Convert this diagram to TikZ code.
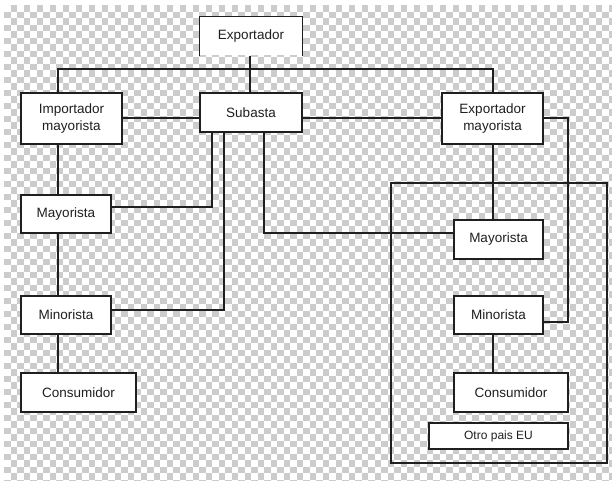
\documentclass[tikz,border=0pt]{standalone}
\usepackage{fontspec}
\setmainfont{Liberation Sans}
\definecolor{chk}{gray}{0.8}
\definecolor{ink}{gray}{0.12}
\begin{document}
\begin{tikzpicture}[x=1pt,y=-1pt,
  box/.style={draw=ink,fill=white,line width=1.2pt,inner sep=0pt,align=center,
    font=\fontsize{13.5}{17}\selectfont,text=ink},
  link/.style={draw=ink,line width=1.2pt}]
\useasboundingbox (0,0) rectangle (612,480);
\fill[white] (0,0) rectangle (612,480);
% checkered background
\foreach \i in {0,...,93}{
  \foreach \j [evaluate=\j as \k using {int(mod(\i+\j,2))}] in {0,...,73}{
    \ifnum\k=1 \fill[chk] ({4+6.5*\i},{5+6.5*\j}) rectangle ++(6.5,6.5);\fi
  }}
% nodes
\node[box,draw=none,minimum width=102pt,minimum height=38pt] (expo) at (251,36) {Exportador};
\draw[link] (expo.south west) -- (expo.north west) -- (expo.north east) -- (expo.south east);
\node[box,minimum width=101pt,minimum height=51pt] (imp) at (71.5,118.5) {Importador\\mayorista};
\node[box,minimum width=102pt,minimum height=39pt] (sub) at (251,112.5) {Subasta};
\node[box,minimum width=101pt,minimum height=51pt] (expm) at (492.5,118.5) {Exportador\\mayorista};
\node[box,minimum width=90pt,minimum height=38pt] (mayL) at (66,214) {Mayorista};
\node[box,minimum width=90pt,minimum height=38pt] (minL) at (66,315) {Minorista};
\node[box,minimum width=115pt,minimum height=39pt] (conL) at (78.5,392.5) {Consumidor};
\node[draw=ink,line width=1.2pt,minimum width=216pt,minimum height=280pt,inner sep=0pt] (eu) at (499,323) {};
\node[box,minimum width=89pt,minimum height=39pt] (mayR) at (498.5,239.5) {Mayorista};
\node[box,minimum width=89pt,minimum height=38pt] (minR) at (498.5,315) {Minorista};
\node[box,minimum width=114pt,minimum height=39pt] (conR) at (511,392.5) {Consumidor};
\node[box,minimum width=139pt,minimum height=26pt,font=\fontsize{12}{14}\selectfont] (otro) at (498.5,436) {Otro pais EU};
% coordinates
\coordinate (bus) at (58,69);
\coordinate (lx) at (58,0);
\coordinate (rx) at (493,0);
\coordinate (ex) at (568,322);
% connectors
\draw[link] (expo.south -| 250,0) -- (sub.north -| 250,0);
\draw[link] (imp.north -| lx) |- (bus) -| (expm.north -| rx);
\draw[link] (imp.east |- 0,118) -- (sub.west |- 0,118);
\draw[link] (sub.east |- 0,118) -- (expm.west |- 0,118);
\draw[link] (imp.south -| lx) -- (mayL.north -| lx);
\draw[link] (mayL.south -| lx) -- (minL.north -| lx);
\draw[link] (minL.south -| lx) -- (conL.north -| lx);
\draw[link] (sub.south -| 212,0) |- (mayL.east |- 0,207);
\draw[link] (sub.south -| 224,0) |- (minL.east |- 0,310);
\draw[link] (sub.south -| 264,0) |- (mayR.west |- 0,233);
\draw[link] (expm.south -| rx) -- (mayR.north -| rx);
\draw[link] (expm.east |- 0,118) -| (ex) -- (minR.east |- ex);
\draw[link] (minR.south -| rx) -- (conR.north -| rx);
\end{tikzpicture}
\end{document}
